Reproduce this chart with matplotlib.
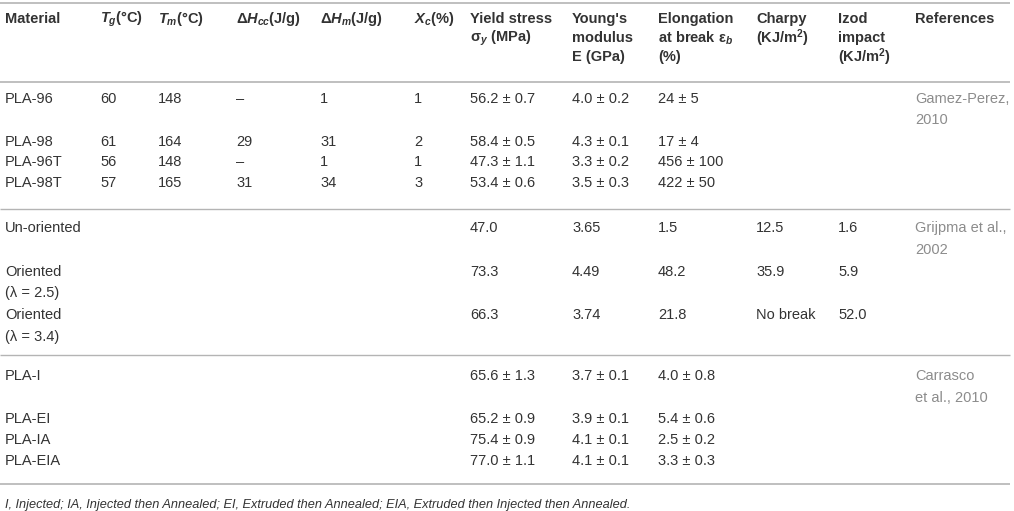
import matplotlib
matplotlib.use("Agg")
import matplotlib.pyplot as plt

plt.rcParams['font.family'] = ['Liberation Sans', 'DejaVu Sans']
plt.rcParams['mathtext.fontset'] = 'custom'
plt.rcParams['mathtext.rm'] = 'Liberation Sans:bold'
plt.rcParams['mathtext.it'] = 'Liberation Sans:italic:bold'
plt.rcParams['mathtext.bf'] = 'Liberation Sans:bold'

# ---------------- data ----------------
headers = [
    ["Material"],
    ["$T_g$(°C)"],
    ["$T_m$(°C)"],
    ["Δ$H_{cc}$(J/g)"],
    ["Δ$H_m$(J/g)"],
    ["$X_c$(%)"],
    ["Yield stress", "σ$_y$ (MPa)"],
    ["Young's", "modulus", "E (GPa)"],
    ["Elongation", "at break ε$_b$", "(%)"],
    ["Charpy", "(KJ/m$^2$)"],
    ["Izod", "impact", "(KJ/m$^2$)"],
    ["References"],
]

materials = ["PLA-96", "PLA-98", "PLA-96T", "PLA-98T",
             "Un-oriented", "Oriented\n(λ = 2.5)", "Oriented\n(λ = 3.4)",
             "PLA-I", "PLA-EI", "PLA-IA", "PLA-EIA"]
tg = ["60", "61", "56", "57", "", "", "", "", "", "", ""]
tm = ["148", "164", "148", "165", "", "", "", "", "", "", ""]
dhcc = ["–", "29", "–", "31", "", "", "", "", "", "", ""]
dhm = ["1", "31", "1", "34", "", "", "", "", "", "", ""]
xc = ["1", "2", "1", "3", "", "", "", "", "", "", ""]
yield_stress = ["56.2 ± 0.7", "58.4 ± 0.5", "47.3 ± 1.1", "53.4 ± 0.6",
                "47.0", "73.3", "66.3",
                "65.6 ± 1.3", "65.2 ± 0.9", "75.4 ± 0.9", "77.0 ± 1.1"]
youngs = ["4.0 ± 0.2", "4.3 ± 0.1", "3.3 ± 0.2", "3.5 ± 0.3",
          "3.65", "4.49", "3.74",
          "3.7 ± 0.1", "3.9 ± 0.1", "4.1 ± 0.1", "4.1 ± 0.1"]
elongation = ["24 ± 5", "17 ± 4", "456 ± 100", "422 ± 50",
              "1.5", "48.2", "21.8",
              "4.0 ± 0.8", "5.4 ± 0.6", "2.5 ± 0.2", "3.3 ± 0.3"]
charpy = ["", "", "", "", "12.5", "35.9", "No break", "", "", "", ""]
izod = ["", "", "", "", "1.6", "5.9", "52.0", "", "", "", ""]
references = ["Gamez-Perez,\n2010", "", "", "",
              "Grijpma et al.,\n2002", "", "",
              "Carrasco\net al., 2010", "", "", ""]
footnote = ("I, Injected; IA, Injected then Annealed; EI, Extruded then Annealed; "
            "EIA, Extruded then Injected then Annealed.")

# ---------------- layout ----------------
W, H = 1014, 511
col_x = [5, 100, 158, 236, 320, 414, 470, 572, 658, 756, 838, 915]
header_y = [19, 38, 57]
row_y = [99, 142, 162, 183, 228, 272, 315, 376, 419, 440, 461]
body_lh = 21.5
rule_y = [3, 82, 209, 355, 484]
thick = [1.2, 1.2, 1.0, 1.0, 1.2]
footnote_y = 505
txt = "#333333"
ref_col = "#8c8c8c"
rule_col = "#b4b4b4"
fs = 10.5

fig = plt.figure(figsize=(W / 100, H / 100), dpi=100)
ax = fig.add_axes([0, 0, 1, 1])
ax.set_xlim(0, W)
ax.set_ylim(H, 0)
ax.axis("off")

for y, lw in zip(rule_y, thick):
    ax.plot([0, 1010], [y, y], color=rule_col, lw=lw, solid_capstyle="butt")

for x, lines in zip(col_x, headers):
    for k, line in enumerate(lines):
        ax.text(x, header_y[k], line, fontsize=fs, fontweight="bold",
                color=txt, ha="left", va="center")

columns = [materials, tg, tm, dhcc, dhm, xc, yield_stress, youngs,
           elongation, charpy, izod, references]
for ci, (x, col) in enumerate(zip(col_x, columns)):
    color = ref_col if ci == len(columns) - 1 else txt
    for y, val in zip(row_y, col):
        for k, line in enumerate(val.split("\n")):
            if line:
                ax.text(x, y + k * body_lh, line, fontsize=fs, color=color,
                        ha="left", va="center")

ax.text(5, footnote_y, footnote, fontsize=9.2, style="italic", color=txt,
        ha="left", va="center")

fig.savefig("out.png", dpi=100)
